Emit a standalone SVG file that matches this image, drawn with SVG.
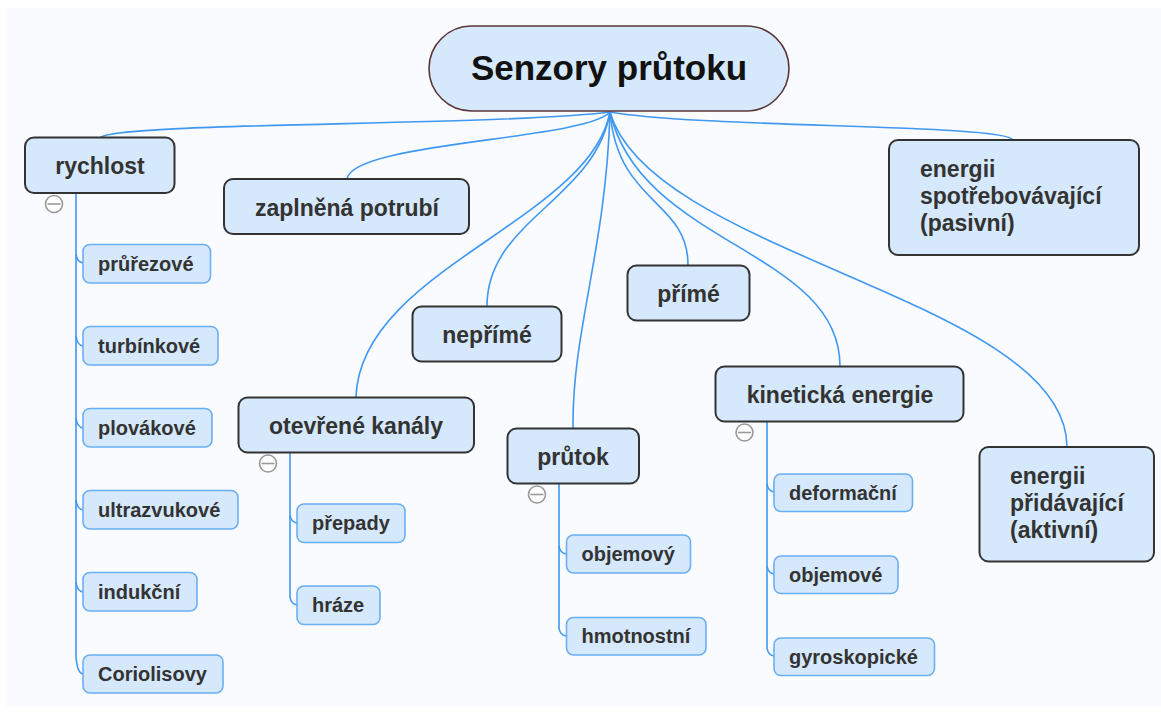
<svg xmlns="http://www.w3.org/2000/svg" width="1161" height="713" viewBox="0 0 1161 713">
<style>
.main{fill:#d6e8fc;stroke:#333;stroke-width:2}
.sub{fill:#d6e8fc;stroke:#6aaff4;stroke-width:1.6}
.mt{font-family:"Liberation Sans",Arial,sans-serif;font-weight:bold;font-size:23px;fill:#333;text-anchor:middle}
.ml{font-family:"Liberation Sans",Arial,sans-serif;font-weight:bold;font-size:23px;fill:#333}
.st{font-family:"Liberation Sans",Arial,sans-serif;font-weight:bold;font-size:20px;fill:#333}
.conn path{fill:none;stroke:#3f98f2;stroke-width:1.6}
.col circle{fill:#fff;stroke:#999;stroke-width:1.6}
.col line{stroke:#999;stroke-width:1.6}
</style>
<rect x="0" y="0" width="1161" height="713" fill="#fff"/>
<rect x="6" y="8" width="1155" height="699" fill="#f9fbfe"/>

<g id="connectors" class="conn">
<path d="M610,112 C500,126 110,122 100,138"/>
<path d="M610,112 C585,140 352,142 347,179"/>
<path d="M610,112 C700,128 1005,124 1013,140"/>
<path d="M610,112 C595,200 487,220 487,306"/>
<path d="M610,112 C590,220 360,270 356,397"/>
<path d="M610,112 C606,250 572,330 573,428"/>
<path d="M610,112 C618,205 688,200 688,265"/>
<path d="M610,112 C640,245 840,250 840,366"/>
<path d="M610,112 C650,255 1067,300 1067,447"/>
<!-- rychlost children -->
<path d="M76,193 V656 Q77,673 83,674"/>
<path d="M76,254 Q77,262 83,263"/>
<path d="M76,336 Q77,345 83,346"/>
<path d="M76,418 Q77,427 83,428"/>
<path d="M76,500 Q77,509 83,510"/>
<path d="M76,582 Q77,591 83,592"/>
<!-- otevřené kanály children -->
<path d="M290,453 V597 Q291,604 297,605"/>
<path d="M290,515 Q291,522 297,523"/>
<!-- průtok children -->
<path d="M559,484 V628 Q560,635 566,636"/>
<path d="M559,546 Q560,553 566,554"/>
<!-- kinetická energie children -->
<path d="M767,422 V648 Q768,655 774,656"/>
<path d="M767,484 Q768,491 774,492"/>
<path d="M767,566 Q768,573 774,574"/>
</g>

<g id="root">
<rect x="429" y="26" width="360" height="85" rx="42.5" fill="#d6e8fc" stroke="#5a3535" stroke-width="1.6"/>
<text x="609" y="80" font-family="Liberation Sans,Arial,sans-serif" font-weight="bold" font-size="35" fill="#111" text-anchor="middle">Senzory průtoku</text>
</g>

<g id="rychlost">
<rect class="main" x="25" y="137.5" width="149.5" height="55.5" rx="9"/>
<text class="mt" x="100" y="174">rychlost</text>
</g>
<g id="zaplnena">
<rect class="main" x="224" y="179" width="245" height="55" rx="9"/>
<text class="mt" x="347" y="215.5">zaplněná potrubí</text>
</g>
<g id="neprime">
<rect class="main" x="412.5" y="306.5" width="149" height="55" rx="9"/>
<text class="mt" x="487" y="343">nepřímé</text>
</g>
<g id="prime">
<rect class="main" x="627.5" y="265.5" width="122" height="55" rx="9"/>
<text class="mt" x="688.5" y="302">přímé</text>
</g>
<g id="otevrene">
<rect class="main" x="238.5" y="397.5" width="235.5" height="55" rx="9"/>
<text class="mt" x="356" y="434">otevřené kanály</text>
</g>
<g id="prutok">
<rect class="main" x="507.5" y="428.5" width="131.5" height="55" rx="9"/>
<text class="mt" x="573" y="465">průtok</text>
</g>
<g id="kineticka">
<rect class="main" x="715.5" y="366.5" width="248" height="55" rx="9"/>
<text class="mt" x="840" y="403">kinetická energie</text>
</g>
<g id="pasivni">
<rect class="main" x="889" y="140" width="250" height="115" rx="9"/>
<text class="ml" x="920" y="177">energii</text>
<text class="ml" x="920" y="204">spotřebovávající</text>
<text class="ml" x="920" y="231">(pasivní)</text>
</g>
<g id="aktivni">
<rect class="main" x="979.5" y="447" width="174.5" height="114.5" rx="9"/>
<text class="ml" x="1010" y="484">energii</text>
<text class="ml" x="1010" y="511">přidávající</text>
<text class="ml" x="1010" y="538">(aktivní)</text>
</g>

<g id="prurezove"><rect class="sub" x="83" y="244.5" width="127.5" height="38.5" rx="7"/><text class="st" x="98" y="271">průřezové</text></g>
<g id="turbinkove"><rect class="sub" x="83" y="326.5" width="135" height="38.5" rx="7"/><text class="st" x="98" y="353">turbínkové</text></g>
<g id="plovakove"><rect class="sub" x="83" y="408.5" width="129" height="38.5" rx="7"/><text class="st" x="98" y="435">plovákové</text></g>
<g id="ultrazvukove"><rect class="sub" x="83" y="490.5" width="155" height="38.5" rx="7"/><text class="st" x="98" y="517">ultrazvukové</text></g>
<g id="indukcni"><rect class="sub" x="83" y="572.5" width="114" height="38.5" rx="7"/><text class="st" x="98" y="599">indukční</text></g>
<g id="coriolisovy"><rect class="sub" x="83" y="655" width="140" height="38" rx="7"/><text class="st" x="98" y="681">Coriolisovy</text></g>

<g id="prepady"><rect class="sub" x="297" y="504" width="108" height="38.5" rx="7"/><text class="st" x="312" y="530">přepady</text></g>
<g id="hraze"><rect class="sub" x="297" y="586" width="83" height="38.5" rx="7"/><text class="st" x="312" y="612">hráze</text></g>

<g id="objemovy"><rect class="sub" x="566.5" y="535" width="124" height="38" rx="7"/><text class="st" x="581.5" y="561">objemový</text></g>
<g id="hmotnostni"><rect class="sub" x="566.5" y="617.5" width="139.5" height="37.5" rx="7"/><text class="st" x="581.5" y="643">hmotnostní</text></g>

<g id="deformacni"><rect class="sub" x="774" y="474" width="138.5" height="37.5" rx="7"/><text class="st" x="789" y="500">deformační</text></g>
<g id="objemove"><rect class="sub" x="774" y="556" width="124" height="37.5" rx="7"/><text class="st" x="789" y="582">objemové</text></g>
<g id="gyroskopicke"><rect class="sub" x="774" y="638" width="160.5" height="37.5" rx="7"/><text class="st" x="789" y="664">gyroskopické</text></g>

<g id="collapse-icons" class="col">
<circle cx="54" cy="204" r="8.5"/><line x1="47.5" y1="204" x2="60.5" y2="204"/>
<circle cx="268" cy="463.5" r="8.5"/><line x1="261.5" y1="463.5" x2="274.5" y2="463.5"/>
<circle cx="537" cy="494.5" r="8.5"/><line x1="530.5" y1="494.5" x2="543.5" y2="494.5"/>
<circle cx="744.5" cy="432.5" r="8.5"/><line x1="738" y1="432.5" x2="751" y2="432.5"/>
</g>
</svg>
